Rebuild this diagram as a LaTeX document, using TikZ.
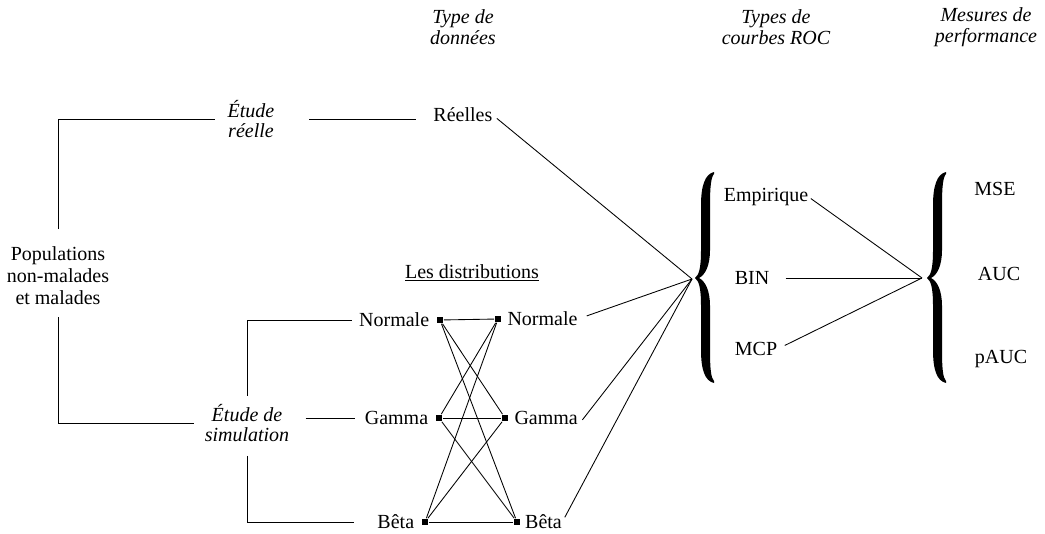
\documentclass[tikz,border=0pt]{standalone}
\usepackage{fontspec}
\setmainfont{Liberation Serif}
\begin{document}
\begin{tikzpicture}[x=0.75pt,y=-0.75pt,line width=0.65pt,
  lbl/.style={font=\fontsize{15}{16.5}\selectfont, inner sep=0pt, align=center},
  hdr/.style={inner sep=0pt, align=center, font=\itshape\fontsize{15}{15.5}\selectfont},
  mk/.style={fill=black, inner sep=0pt, minimum size=5pt},
  bigbrace/.pic={\fill (714,172) .. controls (705,174) and (701,186) .. (701,205) -- (701,250)
      .. controls (701,268) and (699,275) .. (695,278) .. controls (699,281) and (701,288) .. (701,306)
      -- (701,350) .. controls (701,370) and (705,381) .. (714,383)
      -- (714,381) .. controls (711,378) and (710,369) .. (710,350) -- (710,306)
      .. controls (710,290) and (705,281) .. (699,278) .. controls (705,275) and (710,266) .. (710,250)
      -- (710,205) .. controls (710,187) and (711,177) .. (714,174) -- cycle;}]
\useasboundingbox (0,0) rectangle (1045,534);

% headers
\node[hdr] (h1) at (463,27) {Type de\\données};
\node[hdr] (h2) at (776,27) {Types de\\courbes ROC};
\node[hdr] (h3) at (986,27) {Mesures de\\performance};

% left part
\node[lbl] (pop) at (58,276) {Populations\\non-malades\\et malades};
\node[hdr] (reel) at (251,119) {Étude\\réelle};
\node[hdr] (sim) at (247,423) {Étude de\\simulation};
\node[lbl,anchor=west] (reelles) at (433,115) {Réelles};
\node[lbl] (dist) at (472,273) {\underline{Les distributions}};

% distribution markers
\node[mk] (mL1) at (440,320) {};
\node[mk] (mL2) at (439,418) {};
\node[mk] (mL3) at (425,522) {};
\node[mk] (mR1) at (498,319) {};
\node[mk] (mR2) at (505,418) {};
\node[mk] (mR3) at (517,522) {};
\node[lbl,anchor=east] (nL1) at ([xshift=-5pt]mL1.west) {Normale};
\node[lbl,anchor=east] (nL2) at ([xshift=-5pt]mL2.west) {Gamma};
\node[lbl,anchor=east] (nL3) at ([xshift=-5pt]mL3.west) {Bêta};
\node[lbl,anchor=west] (nR1) at ([xshift=4pt]mR1.east) {Normale};
\node[lbl,anchor=west] (nR2) at ([xshift=4pt]mR2.east) {Gamma};
\node[lbl,anchor=west] (nR3) at ([xshift=3pt]mR3.east) {Bêta};

% ROC curve types and measures
\node[lbl] (emp) at (766,197) {Empirique};
\node[lbl] (bin) at (752,278) {BIN};
\node[lbl] (mcp) at (756,349) {MCP};
\node[lbl] (mse) at (995,189) {MSE};
\node[lbl] (auc) at (999,274) {AUC};
\node[lbl] (pauc) at (1001,359) {pAUC};

% braces
\pic at (0,0) {bigbrace};
\pic at (232,0) {bigbrace};
\coordinate (hub1) at (692,279);
\coordinate (hub2) at (922,278);

% connectors
\draw[shorten <=13pt, shorten >=9pt] (pop.north) |- (reel.west);
\draw[shorten <=9pt, shorten >=7.5pt] (pop.south) |- (sim.west);
\draw[shorten <=26pt, shorten >=13pt] (reel.east) -- (reel.east -| reelles.west);
\draw[shorten <=6pt, shorten >=5pt] (sim.north) |- (nL1.west);
\draw[shorten <=12pt, shorten >=7pt] (sim.east |- nL2.west) -- (nL2.west);
\draw[shorten <=10pt, shorten >=17pt] (sim.south) |- (nL3.west);

\foreach \a in {mL1,mL2,mL3}
  \foreach \b in {mR1,mR2,mR3}
    \draw (\a) -- (\b);

\draw[shorten <=4pt] (reelles.east) -- (hub1);
\draw[shorten <=7pt] (nR1.east) -- (hub1);
\draw[shorten <=5pt] (nR2.south east) -- (hub1);
\draw[shorten <=4pt] (nR3.east) -- (hub1);

\draw[shorten <=2pt] (emp.east) -- (hub2);
\draw[shorten <=12pt] (bin.east) -- (hub2);
\draw[shorten <=6pt] (mcp.east) -- (hub2);
\end{tikzpicture}
\end{document}
